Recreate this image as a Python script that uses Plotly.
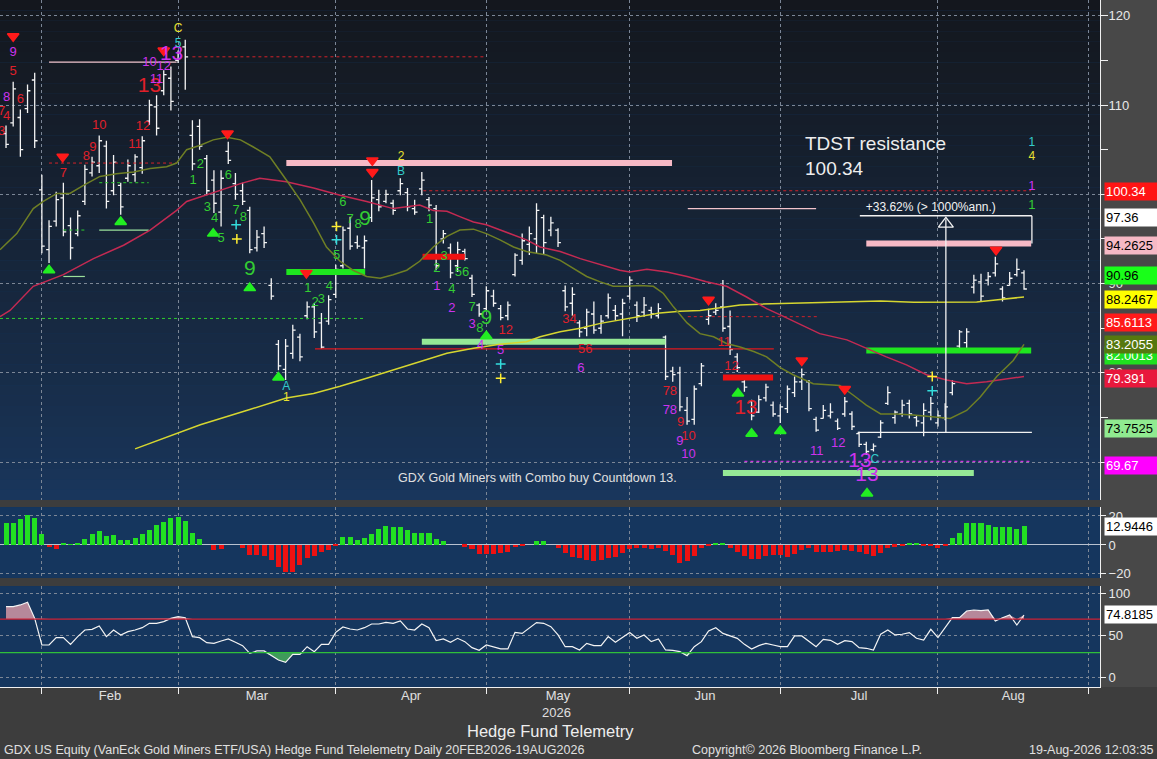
import pandas as pd
import plotly.graph_objects as go

# x axis = trading-day index, first bar is Mon 26-Jan-2026, last is Wed 19-Aug-2026
holidays = pd.to_datetime(["2026-02-16", "2026-04-03", "2026-05-25",
                           "2026-06-19", "2026-07-03", "2026-09-07"])
days = pd.bdate_range("2026-01-26", "2026-09-30")
days = days[~days.isin(holidays)]

opens = [106.8, 108.0, 108.6, 109.6, 112.8, 100.5, 93.8, 97.0, 99.6, 96.5,
         95.6, 99.2, 102.4, 103.2, 105.4, 100.4, 101.0, 101.8, 102.2, 103.0,
         108.2, 109.8, 111.6, 113.0, 115.0, 116.5, 106.6, 107.6, 104.0, 101.6,
         98.0, 104.8, 101.2, 100.4, 98.2, 94.0, 95.6, 89.8, 83.2, 80.4,
         82.2, 84.0, 86.4, 87.4, 85.6, 85.8, 88.8, 92.0, 96.2, 94.6,
         94.0, 97.4, 99.4, 99.2, 99.0, 100.4, 100.2, 98.4, 100.6, 99.4,
         98.4, 95.0, 94.0, 92.0, 93.6, 90.6, 87.6, 87.2, 88.6, 87.2,
         86.4, 91.0, 92.6, 94.4, 95.0, 97.4, 96.0, 96.0, 89.2, 87.8,
         85.6, 85.0, 86.6, 85.0, 86.4, 87.0, 86.6, 88.6, 87.6, 86.8,
         87.0, 86.4, 84.0, 80.2, 80.0, 75.8, 74.8, 78.8, 86.0, 86.8,
         87.4, 85.2, 81.8, 79.0, 76.8, 75.6, 77.2, 76.4, 75.2, 76.0,
         77.8, 79.0, 79.0, 74.8, 74.9, 75.2, 74.6, 75.4, 75.4, 73.2,
         72.0, 71.4, 72.8, 76.6, 75.0, 75.4, 76.6, 75.0, 74.4, 75.6,
         74.4, 75.0, 77.8, 83.0, 83.4, 89.6, 90.2, 90.4, 91.2, 89.4,
         89.8, 91.0, 91.2]
highs = [107.7, 112.6, 109.5, 112.3, 113.6, 102.2, 97.1, 100.3, 101.3, 97.4,
         98.2, 103.3, 104.2, 106.6, 106.0, 104.4, 101.3, 103.9, 104.5, 106.5,
         110.6, 111.1, 113.9, 114.3, 116.1, 117.3, 108.3, 108.4, 104.4, 102.7,
         102.7, 105.9, 102.4, 101.3, 98.6, 96.0, 96.4, 90.6, 83.7, 83.8,
         85.4, 84.4, 88.0, 87.8, 86.7, 88.7, 92.1, 96.4, 97.5, 95.4,
         95.4, 101.6, 100.5, 100.5, 99.4, 101.8, 100.7, 99.4, 102.5, 99.7,
         98.8, 96.0, 94.5, 94.7, 93.9, 91.0, 87.8, 89.7, 89.3, 87.6,
         88.0, 93.4, 95.6, 96.4, 99.0, 97.7, 97.5, 96.2, 89.8, 89.6,
         85.9, 87.2, 88.0, 86.5, 88.9, 87.6, 88.3, 90.8, 88.0, 88.5,
         87.4, 87.8, 84.2, 80.7, 80.7, 77.3, 78.6, 81.1, 87.2, 87.8,
         90.4, 87.0, 82.2, 79.4, 77.0, 77.5, 78.8, 76.8, 76.5, 78.6,
         79.6, 80.5, 79.2, 75.1, 76.4, 76.6, 74.9, 77.3, 75.7, 73.4,
         72.3, 72.1, 74.7, 78.5, 75.8, 77.0, 77.0, 75.3, 76.6, 77.3,
         75.8, 76.6, 79.2, 84.8, 85.0, 91.0, 91.1, 91.3, 93.0, 89.7,
         91.3, 92.8, 91.5]
lows = [105.2, 107.6, 104.2, 109.1, 105.2, 93.4, 92.3, 96.4, 95.3, 92.7,
        95.3, 98.8, 102.0, 102.4, 98.4, 99.9, 97.7, 101.4, 101.4, 102.3,
        107.8, 106.6, 111.1, 109.4, 114.7, 111.7, 102.7, 105.0, 99.9, 97.9,
        96.4, 103.4, 99.4, 98.8, 93.4, 93.6, 94.0, 88.2, 80.3, 79.2,
        81.6, 81.3, 86.0, 83.9, 82.7, 85.4, 88.4, 91.7, 93.8, 93.9,
        91.7, 96.9, 98.1, 99.0, 97.7, 99.9, 98.1, 97.7, 99.9, 98.1,
        91.5, 94.5, 90.6, 91.3, 92.6, 88.5, 86.3, 86.9, 87.4, 85.9,
        85.9, 90.8, 92.1, 93.2, 93.4, 93.2, 95.3, 94.1, 86.9, 86.4,
        84.0, 84.1, 84.4, 84.4, 86.1, 85.9, 84.1, 88.2, 85.7, 86.3,
        86.1, 86.1, 79.2, 79.0, 75.7, 74.2, 74.2, 78.5, 85.4, 86.5,
        84.6, 82.0, 80.1, 77.9, 74.7, 75.5, 76.8, 75.1, 74.4, 75.5,
        77.3, 78.1, 75.7, 73.4, 74.9, 74.9, 73.6, 75.1, 73.6, 71.7,
        70.8, 71.2, 72.7, 76.4, 74.3, 75.1, 74.9, 74.0, 72.9, 74.7,
        74.0, 74.7, 77.5, 82.7, 82.7, 88.9, 88.0, 89.8, 90.8, 88.0,
        89.8, 90.8, 89.3]
closes = [105.6, 111.8, 105.0, 111.6, 106.0, 94.2, 96.4, 99.4, 95.8, 94.0,
          97.6, 102.8, 103.6, 106.0, 99.2, 103.6, 98.6, 103.2, 104.2, 106.0,
          110.0, 107.4, 113.4, 110.4, 115.8, 115.4, 103.4, 105.4, 100.4, 99.0,
          101.8, 103.8, 100.0, 99.2, 93.8, 95.2, 94.6, 88.6, 80.8, 83.0,
          84.8, 81.8, 87.4, 84.6, 82.9, 88.2, 91.6, 96.0, 94.2, 94.2,
          94.8, 99.6, 98.6, 100.0, 98.2, 101.2, 98.6, 98.0, 101.6, 98.8,
          92.0, 95.6, 91.2, 93.8, 92.8, 88.8, 86.6, 89.2, 87.8, 86.2,
          87.6, 93.2, 94.8, 95.6, 98.2, 94.6, 96.8, 94.6, 87.4, 88.8,
          84.6, 86.8, 84.8, 85.8, 88.4, 86.4, 87.8, 90.4, 86.4, 87.6,
          86.6, 87.2, 79.6, 79.8, 76.2, 74.6, 78.2, 80.8, 86.4, 87.0,
          85.0, 82.6, 80.6, 78.4, 75.2, 77.0, 78.4, 75.4, 76.2, 78.2,
          79.0, 79.8, 76.0, 73.6, 75.8, 75.6, 73.8, 76.8, 74.0, 72.0,
          71.2, 71.8, 74.4, 77.8, 75.6, 76.4, 75.4, 74.6, 75.8, 76.6,
          75.2, 76.2, 78.8, 84.6, 84.6, 90.4, 88.6, 90.8, 92.2, 88.4,
          90.6, 91.6, 89.4]

macd_hist = [15.0, 15.0, 18.0, 20.7, 18.9, 7.4, -1.6, -2.8, 1.2, 0.3,
             1.2, 4.1, 7.4, 9.7, 6.4, 6.9, 3.5, 3.5, 4.6, 7.4,
             10.4, 13.8, 16.1, 18.9, 19.6, 16.6, 8.1, 4.1, 0.0, -3.5,
             -2.8, 0.0, 0.0, -1.8, -6.9, -6.9, -7.4, -10.4, -15.0, -18.9,
             -18.4, -13.8, -8.7, -7.4, -5.1, -3.5, -0.5, 5.8, 5.8, 3.5,
             4.6, 7.4, 11.0, 13.3, 12.7, 12.7, 10.4, 8.5, 8.5, 8.5,
             4.1, 2.8, 0.0, 0.0, -1.2, -3.0, -6.4, -6.4, -6.4, -5.8,
             -5.1, -1.6, -0.7, 0.0, 2.8, 2.8, 0.0, -1.8, -5.3, -8.0,
             -9.2, -10.4, -11.0, -10.4, -9.2, -8.0, -5.8, -2.8, -2.3, -2.3,
             -3.0, -1.8, -4.1, -6.9, -12.7, -11.0, -7.6, -1.8, -0.5, 1.6,
             0.9, -1.8, -4.6, -7.4, -9.9, -9.7, -7.4, -6.9, -6.9, -8.0,
             -6.4, -3.5, -2.3, -5.1, -5.1, -5.1, -4.1, -3.5, -3.9, -4.6,
             -6.4, -7.4, -5.3, -1.8, -1.2, -0.5, 0.9, 0.9, -0.5, -0.7,
             -1.8, -0.5, 5.1, 8.1, 15.0, 15.0, 15.0, 13.8, 12.7, 12.7,
             12.7, 11.0, 12.9446]

rsi = [84.8, 84.8, 86.8, 90.0, 70.8, 39.0, 39.0, 47.8, 47.8, 39.8,
       49.0, 56.9, 57.7, 61.7, 49.0, 56.9, 51.0, 54.9, 56.9, 59.7,
       64.9, 64.9, 66.9, 70.8, 72.8, 71.6, 49.0, 47.8, 41.8, 41.0,
       43.8, 46.2, 42.2, 38.2, 29.1, 31.9, 31.9, 26.3, 21.1, 18.4,
       27.9, 27.9, 37.0, 31.1, 39.8, 39.8, 54.1, 60.5, 58.1, 56.9,
       59.7, 64.1, 64.1, 66.1, 64.9, 67.7, 58.1, 56.9, 64.1, 59.7,
       44.2, 46.2, 42.2, 47.0, 43.0, 35.9, 32.7, 39.0, 37.0, 34.3,
       34.3, 54.1, 52.9, 59.7, 65.7, 64.9, 60.9, 51.0, 37.0, 37.0,
       33.1, 41.0, 38.2, 38.2, 49.0, 42.2, 47.8, 53.8, 47.0, 51.0,
       43.0, 46.2, 33.1, 32.7, 31.1, 26.3, 37.0, 43.0, 55.7, 59.7,
       52.9, 50.2, 47.0, 39.8, 34.3, 38.2, 41.0, 39.0, 37.0, 37.0,
       49.8, 49.8, 43.0, 37.0, 45.8, 44.6, 39.8, 44.2, 43.0, 35.9,
       35.1, 33.1, 51.8, 56.9, 51.0, 51.8, 53.8, 47.0, 45.0, 57.7,
       47.8, 59.7, 71.6, 71.6, 79.6, 80.8, 80.0, 80.8, 67.7, 71.6,
       74.8, 62.9, 74.8185]

# moving averages, (bar, value)
fast_ma = [(-0.84, 93.8), (1.5, 95.6), (3.8, 98.4), (5.2, 99.2), (7.1, 100.1), (8.9, 100.1),
           (10.8, 101.0), (13.1, 102.0), (15.4, 102.3), (17.8, 102.5), (20.1, 102.9), (22.4, 103.1),
           (23.8, 103.5), (25.2, 105.0), (27.1, 105.5), (28.9, 106.1), (30.8, 106.4), (32.7, 106.1),
           (34.5, 105.3), (36.8, 104.2), (39.1, 101.6), (41.0, 99.4), (42.9, 96.8), (44.7, 94.1),
           (46.6, 92.5), (48.4, 91.5), (50.3, 90.8), (52.2, 90.6), (54.0, 91.0), (55.9, 91.5),
           (57.7, 92.5), (59.6, 94.1), (61.5, 95.3), (63.3, 96.0), (65.2, 96.1), (67.0, 95.6),
           (68.9, 94.9), (70.8, 94.1), (72.6, 93.6), (75.4, 93.2), (77.3, 92.6), (79.1, 91.7),
           (81.0, 90.8), (82.9, 90.2), (84.7, 89.7), (86.6, 89.7), (88.4, 89.8), (90.3, 89.7),
           (91.7, 88.9), (93.1, 87.4), (95.0, 85.6), (96.8, 84.4), (98.7, 84.05), (100.5, 83.3),
           (102.4, 82.9), (104.3, 82.4), (106.1, 81.8), (108.0, 80.6), (109.8, 79.8), (112.6, 78.8),
           (116.3, 78.6), (118.2, 77.5), (120.0, 76.4), (122.0, 75.4), (124.2, 75.4), (126.6, 75.3),
           (128.9, 75.1), (131.7, 74.9), (134.0, 75.8), (135.9, 77.3), (138.2, 79.6), (140.5, 81.4),
           (142.0, 83.2)]
slow_ma = [(-0.84, 86.3), (0.56, 87.0), (3.8, 89.7), (8.0, 91.0), (12.2, 92.8), (16.4, 94.3),
           (20.1, 96.0), (23.8, 98.2), (25.2, 99.2), (27.1, 99.7), (29.9, 100.5), (32.7, 101.2),
           (35.4, 101.8), (39.1, 101.4), (42.9, 100.7), (46.6, 99.9), (50.3, 99.2), (54.0, 98.4),
           (55.9, 98.6), (57.7, 98.8), (59.6, 98.2), (61.5, 98.1), (63.3, 97.5), (65.2, 96.9),
           (67.0, 96.6), (68.9, 96.0), (70.8, 95.4), (72.6, 94.9), (74.5, 94.1), (77.3, 93.6),
           (80.1, 92.8), (82.9, 92.1), (85.6, 91.5), (87.0, 91.3), (89.4, 91.6), (92.2, 91.3),
           (95.0, 90.8), (97.7, 90.2), (100.5, 89.7), (103.3, 88.5), (106.1, 87.2), (108.0, 86.5),
           (110.7, 85.5), (113.5, 84.4), (117.3, 83.7), (120.0, 82.75), (122.8, 81.8), (125.6, 80.9),
           (128.4, 79.8), (131.2, 79.2), (134.0, 78.8), (136.8, 79.0), (139.6, 79.3), (142.0, 79.6)]
long_ma = [(18.0, 71.5), (27.1, 74.2), (34.0, 75.9), (39.1, 77.2), (42.9, 77.7), (46.6, 78.5),
           (50.3, 79.4), (54.0, 80.3), (57.7, 81.25), (61.5, 82.2), (65.2, 82.75), (68.9, 83.2),
           (72.6, 83.5), (74.5, 84.05), (77.3, 84.6), (80.1, 85.0), (82.9, 85.55), (85.6, 85.9),
           (88.4, 86.3), (91.2, 86.7), (94.0, 86.9), (96.8, 87.0), (99.6, 87.3), (102.4, 87.6),
           (105.2, 87.7), (109.4, 87.8), (112.6, 87.9), (117.3, 87.95), (122.0, 88.05), (126.6, 87.9),
           (131.2, 87.9), (135.4, 87.95), (137.7, 88.15), (140.5, 88.4), (142.0, 88.5)]

# horizontal levels: (from bar, to bar, price)
tdst_sell = [(39.1, 92.9, 103.5), (120.0, 143.0, 94.5)]
tdst_buy = [(39.1, 50.1, 91.3), (120.0, 143.0, 82.5)]
old_tdst_buy = [(58.0, 92.0, 83.5), (100.0, 135.0, 68.8)]
risk_sell = [(58.1, 64.0, 93.0), (100.0, 107.0, 79.5)]
risk_line = [(43.1, 107.1, 82.7)]
red_dotted = [(6.0, 23.8, 103.5), (26.0, 67.0, 115.4), (58.2, 143.0, 100.4), (95.1, 113.2, 86.3)]
pink_thin = [(6.0, 23.8, 114.8), (95.1, 113.0, 98.4)]
green_dotted = [(-0.84, 49.8, 86.1), (8.0, 11.3, 96.0), (13.0, 19.9, 101.3)]
green_thin = [(8.0, 11.0, 90.8), (13.0, 19.9, 96.0)]
magenta_dotted = [(103.0, 142.8, 70.1)]
measure_h = [(118.8, 143.1, 73.35), (119.1, 143.1, 97.6)]
measure_v = [(131.1, 73.35, 97.2), (143.1, 97.6, 94.5)]

# TD counts (bar, price, label)
red_counts = [(-0.6, 109.3, "7"), (0.1, 108.7, "4"), (-0.6, 107.0, "3"), (1.0, 113.7, "5"),
              (2.0, 110.6, "6"), (8.0, 102.3, "7"), (11.2, 104.2, "8"), (12.1, 105.2, "9"),
              (13.0, 107.7, "10"), (18.0, 105.5, "11"), (19.1, 107.6, "12"), (69.7, 84.7, "12"),
              (78.6, 85.9, "34"), (80.8, 82.6, "56"), (92.6, 77.9, "78"), (94.1, 74.4, "9"),
              (95.2, 72.9, "10"), (100.2, 83.4, "11"), (101.2, 80.7, "12")]
red_big = [(20.0, 112.0, "13"), (103.2, 76.0, "13")]
magenta_counts = [(1.0, 115.8, "9"), (0.1, 110.8, "8"), (20.0, 114.7, "10"), (21.0, 112.8, "11"),
                  (22.0, 114.3, "12"), (60.1, 89.7, "1"), (62.2, 87.2, "2"), (65.0, 85.4, "3"),
                  (66.2, 83.0, "4"), (69.0, 82.5, "5"), (80.2, 80.5, "6"), (92.6, 75.8, "78"),
                  (94.0, 72.3, "9"), (95.2, 70.8, "10"), (113.1, 71.2, "11"), (116.1, 72.1, "12"),
                  (143.1, 100.8, "1")]
magenta_big = [(23.1, 115.6, "13"), (119.1, 70.1, "13"), (120.1, 68.5, "13")]
green_counts = [(26.1, 101.5, "1"), (27.1, 103.3, "2"), (28.1, 98.5, "3"), (29.1, 97.3, "4"),
                (30.0, 95.0, "5"), (31.0, 102.1, "6"), (32.1, 98.2, "7"), (33.1, 97.4, "8"),
                (42.1, 89.4, "1"), (43.1, 87.9, "2"), (44.0, 88.2, "3"), (45.1, 89.7, "4"),
                (46.1, 93.1, "5"), (47.0, 99.1, "6"), (48.0, 97.1, "7"), (49.1, 96.6, "8"),
                (59.1, 97.1, "1"), (60.1, 91.7, "2"), (61.1, 93.0, "3"), (62.2, 89.3, "4"),
                (63.6, 91.2, "56"), (65.0, 87.3, "7"), (66.1, 85.0, "8"), (143.1, 98.7, "1")]
green_big = [(34.0, 91.5, "9"), (50.1, 97.1, "9"), (67.0, 86.1, "9")]
yellow_marks = [(24.0, 118.5, "C"), (55.1, 104.2, "2"), (39.1, 77.2, "1"), (143.1, 104.2, "4")]
cyan_marks = [(24.0, 116.8, "5"), (55.1, 102.5, "B"), (39.1, 78.4, "A"), (121.2, 70.2, "C"),
              (143.1, 105.7, "1")]
yellow_plus = [(32.2, 95.0), (46.1, 96.4), (69.0, 79.4), (129.2, 79.6)]
cyan_plus = [(32.1, 96.6), (46.1, 94.9), (69.0, 81.0), (129.2, 78.0)]
sell_arrows = [(1.0, 117.7), (7.9, 104.2), (22.0, 116.1), (30.9, 106.8), (41.9, 91.2), (51.1, 103.8),
               (51.1, 102.5), (98.0, 88.2), (111.0, 81.4), (117.0, 78.2), (138.1, 93.8)]
buy_arrows = [(6.0, 91.5), (16.0, 96.9), (28.9, 95.6), (34.0, 89.5), (38.0, 79.5), (67.0, 84.1),
              (102.1, 77.7), (104.0, 73.2), (108.0, 73.5), (120.1, 66.5)]

# right-axis value tags
tag_values = [100.34, 97.36, 94.2625, 90.96, 88.2467, 85.6113, 82.0013, 83.2055, 79.391, 73.7525, 69.67]
tag_fill = ["#ff1414", "#ffffff", "#f6b9c5", "#19ff19", "#ffff00", "#ff1a1a", "#1fe01f",
            "#55780f", "#e8183c", "#90ea90", "#ff00ff"]
tag_ink = ["white", "black", "black", "black", "black", "white", "white",
           "white", "white", "black", "white"]

FONT = "Liberation Sans"
bars = list(range(len(closes)))
month_first = [i for i in range(1, len(days)) if days[i].month != days[i - 1].month]
month_mid = [(a + b) / 2 for a, b in zip(month_first[:-1], month_first[1:])]
month_lbl = [days[i].strftime("%b") for i in month_first[:-1]]

fig = go.Figure()


def levels(rows, color, width, dash="solid"):
    for x0, x1, p in rows:
        fig.add_trace(go.Scatter(x=[x0, x1], y=[p, p], mode="lines",
                                 line=dict(color=color, width=width, dash=dash),
                                 hoverinfo="skip", showlegend=False))


def counts(rows, color, size):
    xs, ys, ts = zip(*rows)
    fig.add_trace(go.Scatter(x=xs, y=ys, text=ts, mode="text",
                             textfont=dict(color=color, size=size, family=FONT),
                             hoverinfo="skip", showlegend=False))


def marks(rows, symbol, color, size):
    xs, ys = zip(*rows)
    fig.add_trace(go.Scatter(x=xs, y=ys, mode="markers",
                             marker=dict(symbol=symbol, color=color, size=size,
                                         line=dict(color=color, width=1.5)),
                             hoverinfo="skip", showlegend=False))


levels(red_dotted, "#d2222a", 1, "dot")
levels(green_dotted, "#2ecc2e", 1, "dot")
levels(magenta_dotted, "#cc33dd", 1.2, "dot")
levels(pink_thin, "#f2c4cc", 1.2)
levels(green_thin, "#9be09b", 1.2)
levels(risk_line, "#e0181e", 1.3)
levels(tdst_sell, "#f6b9c5", 6)
levels(tdst_buy, "#1fe61f", 6)
levels(old_tdst_buy, "#95e895", 6)
levels(risk_sell, "#ee1111", 6)

for pts, col in [(long_ma, "#d6d630"), (slow_ma, "#c42a52"), (fast_ma, "#6f7f25")]:
    xs, ys = zip(*pts)
    fig.add_trace(go.Scatter(x=xs, y=ys, mode="lines", line=dict(color=col, width=1.5),
                             hoverinfo="skip", showlegend=False))

levels(measure_h, "#f2f2f2", 1.3)
for x, y0, y1 in measure_v:
    fig.add_trace(go.Scatter(x=[x, x], y=[y0, y1], mode="lines", line=dict(color="#f2f2f2", width=1.3),
                             hoverinfo="skip", showlegend=False))
fig.add_trace(go.Scatter(x=[measure_v[0][0]], y=[measure_v[0][2] - 0.5], mode="markers",
                         marker=dict(symbol="triangle-up-open", size=13, color="#f2f2f2",
                                     line=dict(width=1.3)),
                         hoverinfo="skip", showlegend=False))

fig.add_trace(go.Ohlc(x=bars, open=opens, high=highs, low=lows, close=closes,
                      increasing=dict(line=dict(color="#f4f4f4", width=1.3)),
                      decreasing=dict(line=dict(color="#f4f4f4", width=1.3)),
                      tickwidth=0.4, hoverinfo="skip", showlegend=False))

marks(sell_arrows, "triangle-down", "#ff1a1a", 10)
marks(buy_arrows, "triangle-up", "#22ee22", 10)
marks(yellow_plus, "cross-thin", "#ffee33", 7)
marks(cyan_plus, "cross-thin", "#33dddd", 7)
counts(red_counts, "#e0202a", 13)
counts(red_big, "#e0202a", 21)
counts(magenta_counts, "#cc33ee", 13)
counts(magenta_big, "#cc33ee", 21)
counts(green_counts, "#33cc33", 13)
counts(green_big, "#33cc33", 21)
counts(yellow_marks, "#e8e030", 12)
counts(cyan_marks, "#33cccc", 12)

fig.add_trace(go.Scatter(x=[129.0], y=[98.5], text=["+33.62% (> 1000%ann.)"], mode="text",
                         textfont=dict(color="#f2f2f2", size=12, family=FONT),
                         hoverinfo="skip", showlegend=False))

# MACD histogram
fig.add_trace(go.Bar(x=bars, y=macd_hist, width=0.7, xaxis="x2", yaxis="y2",
                     marker=dict(color=["#22e022" if v >= 0 else "#ee1111" for v in macd_hist],
                                 line=dict(width=0)),
                     hoverinfo="skip", showlegend=False))

# RSI with overbought / oversold fills
upper = [max(v, 70) for v in rsi]
lower = [min(v, 30) for v in rsi]
for base, edge, col in [(70, upper, "rgba(210,150,165,0.85)"), (30, lower, "rgba(70,170,90,0.85)")]:
    fig.add_trace(go.Scatter(x=bars, y=[base] * len(rsi), mode="lines", line=dict(width=0),
                             xaxis="x3", yaxis="y3", hoverinfo="skip", showlegend=False))
    fig.add_trace(go.Scatter(x=bars, y=edge, mode="lines", line=dict(width=0), fill="tonexty",
                             fillcolor=col, xaxis="x3", yaxis="y3", hoverinfo="skip", showlegend=False))
fig.add_trace(go.Scatter(x=bars, y=rsi, mode="lines", line=dict(color="#f4f4f4", width=1.2),
                         xaxis="x3", yaxis="y3", hoverinfo="skip", showlegend=False))

# gradient background of the price panel
shapes = []
top, bot = (20, 23, 29), (25, 55, 94)
n = 48
for i in range(n):
    t = ((i + 0.5) / n) ** 0.8
    c = tuple(round(bot[j] + (top[j] - bot[j]) * t) for j in range(3))
    shapes.append(dict(type="rect", xref="x domain", yref="y domain", x0=0, x1=1,
                       y0=i / n, y1=(i + 1) / n, fillcolor="rgb(%d,%d,%d)" % c,
                       line=dict(width=0), layer="below"))
for lvl, col in [(70, "#cc2035"), (30, "#2fbf3a")]:
    shapes.append(dict(type="line", xref="x3 domain", yref="y3", x0=0, x1=1, y0=lvl, y1=lvl,
                       line=dict(color=col, width=1.3)))
# right-hand axis strip is a lighter grey than the footer
shapes.append(dict(type="rect", xref="paper", yref="paper", x0=1, x1=1.06, y0=0, y1=1,
                   fillcolor="#484848", line=dict(width=0), layer="below"))

grid = dict(showgrid=True, gridcolor="#7b8696", griddash="dot", gridwidth=1)
xbase = dict(range=[-0.84, 152.6], tickmode="array", tickvals=month_first, showticklabels=False,
             ticks="", zeroline=False, **grid)
yfont = dict(color="#e8e8e8", size=13, family=FONT)
ybase = dict(side="right", showline=True, linecolor="#f0f0f0", linewidth=1, ticks="outside",
             ticklen=5, tickcolor="#f0f0f0", tickfont=yfont, zeroline=False, **grid)

foot = dict(color="#e0e0e0", size=12.5, family=FONT)
annotations = [
    dict(x=111.2, y=104.3, xref="x", yref="y", text="TDST resistance<br>100.34", showarrow=False,
         xanchor="left", align="left", font=dict(size=19, color="#eeeeee", family=FONT)),
    dict(x=74.1, y=68.2, xref="x", yref="y", text="GDX Gold Miners with Combo buy Countdown 13.",
         showarrow=False, font=dict(size=12.5, color="#e0e0e0", family=FONT)),
    dict(x=0.506, y=-0.037, xref="paper", yref="paper", xanchor="center", yanchor="middle",
         text="2026", showarrow=False, font=dict(size=13, color="#e0e0e0", family=FONT)),
    dict(x=0.5, y=-0.064, xref="paper", yref="paper", xanchor="center", yanchor="middle",
         text="Hedge Fund Telemetry", showarrow=False, font=dict(size=16.5, color="#eeeeee", family=FONT)),
    dict(x=0.002, y=-0.092, xref="paper", yref="paper", xanchor="left", yanchor="middle", showarrow=False,
         text="GDX US Equity (VanEck Gold Miners ETF/USA) Hedge Fund Telelemetry Daily 20FEB2026-19AUG2026",
         font=foot),
    dict(x=0.734, y=-0.092, xref="paper", yref="paper", xanchor="center", yanchor="middle",
         showarrow=False, text="Copyright© 2026 Bloomberg Finance L.P.", font=foot),
    dict(x=1.05, y=-0.092, xref="paper", yref="paper", xanchor="right", yanchor="middle",
         showarrow=False, text="19-Aug-2026 12:03:35", font=foot),
]
for v, bg, ink in zip(tag_values, tag_fill, tag_ink):
    annotations.append(dict(x=1, y=v, xref="paper", yref="y", xanchor="left", xshift=4,
                            text=str(v), showarrow=False, bgcolor=bg, borderpad=1, width=54,
                            align="left", font=dict(size=13, color=ink, family=FONT)))
for v, ax in [(macd_hist[-1], "y2"), (rsi[-1], "y3")]:
    annotations.append(dict(x=1, y=v, xref="paper", yref=ax, xanchor="left", xshift=4,
                            text=str(v), showarrow=False, bgcolor="#ffffff", borderpad=1,
                            width=54, align="left", font=dict(size=13, color="black", family=FONT)))

fig.update_layout(
    width=1157, height=759,
    margin=dict(l=0, r=57, t=0, b=72),
    paper_bgcolor="#3d3d3d",
    plot_bgcolor="#15365e",
    font=dict(family=FONT, color="#e6e6e6"),
    showlegend=False,
    bargap=0,
    shapes=shapes,
    annotations=annotations,
    xaxis=dict(xbase, anchor="y", rangeslider=dict(visible=False)),
    xaxis2=dict(xbase, anchor="y2", matches="x"),
    xaxis3=dict(range=[-0.84, 152.6], anchor="y3", matches="x", tickmode="array",
                tickvals=month_mid, ticktext=month_lbl, ticks="", showgrid=False, zeroline=False,
                showline=True, linecolor="#f0f0f0", linewidth=1, ticklabelstandoff=-4,
                tickfont=dict(color="#e0e0e0", size=13, family=FONT),
                minor=dict(tickmode="array", tickvals=month_first, ticks="outside", ticklen=6,
                           tickcolor="#f0f0f0", showgrid=True, gridcolor="#7b8696", griddash="dot")),
    yaxis=dict(ybase, domain=[0.2722, 1.0], anchor="x", range=[65.77, 121.76],
               tickvals=[70, 80, 90, 100, 110, 120],
               minor=dict(ticks="outside", ticklen=7, tickcolor="#f0f0f0", dtick=5, showgrid=False)),
    yaxis2=dict(ybase, domain=[0.1587, 0.262], anchor="x2", range=[-22.8, 26.2],
                tickvals=[-20, 0, 20], zeroline=True, zerolinecolor="#b8c2d0", zerolinewidth=1),
    yaxis3=dict(ybase, domain=[0.0, 0.147], anchor="x3", range=[-11.1, 109.4],
                tickvals=[0, 50, 100]),
)

# the page body's default 8px margin would shift the figure inside the window
fig.write_html("out.html", config={"displayModeBar": False},
               post_script="document.body.style.margin='0';")
